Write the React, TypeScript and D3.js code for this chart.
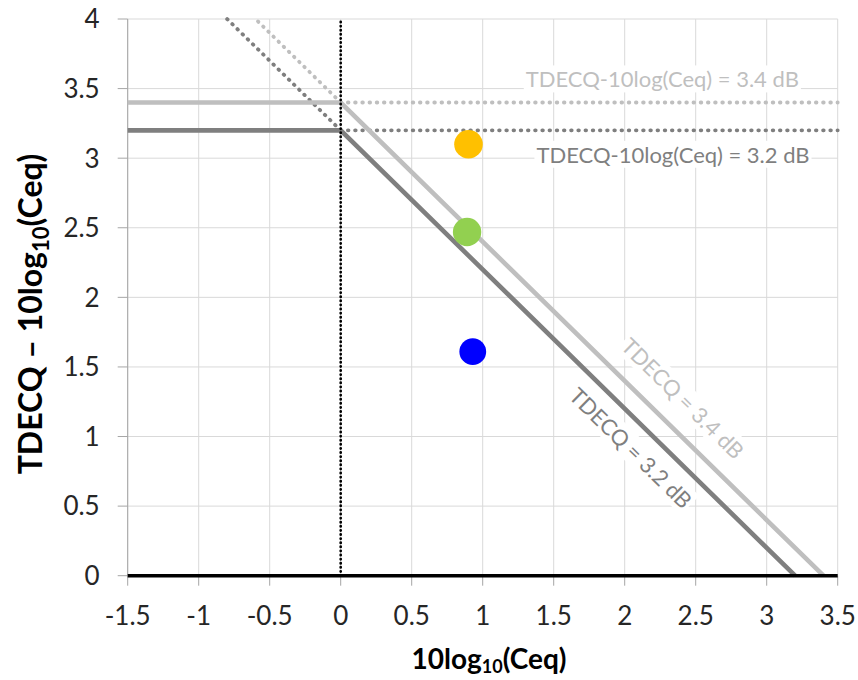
import React, { useLayoutEffect, useRef, useState } from "react";
import * as d3 from "d3";

// ---- data ----
const xTicks = [-1.5, -1, -0.5, 0, 0.5, 1, 1.5, 2, 2.5, 3, 3.5];
const yTicks = [0, 0.5, 1, 1.5, 2, 2.5, 3, 3.5, 4];
const xTickLabels = ["-1.5", "-1", "-0.5", "0", "0.5", "1", "1.5", "2", "2.5", "3", "3.5"];
const yTickLabels = ["0", "0.5", "1", "1.5", "2", "2.5", "3", "3.5", "4"];

const limitLight = [
  { x: -1.5, y: 3.4 },
  { x: 0, y: 3.4 },
  { x: 3.4, y: 0 },
];
const limitDark = [
  { x: -1.5, y: 3.2 },
  { x: 0, y: 3.2 },
  { x: 3.2, y: 0 },
];
const dotLightDiag = [
  { x: 0, y: 3.4 },
  { x: -0.6, y: 4 },
];
const dotDarkDiag = [
  { x: 0, y: 3.2 },
  { x: -0.8, y: 4 },
];
const dotLightFlat = [
  { x: 0, y: 3.4 },
  { x: 3.5, y: 3.4 },
];
const dotDarkFlat = [
  { x: 0, y: 3.2 },
  { x: 3.5, y: 3.2 },
];
const zeroLine = [
  { x: 0, y: 0 },
  { x: 0, y: 4 },
];
const pointsX = [0.9, 0.89, 0.93];
const pointsY = [3.1, 2.47, 1.61];
const pointColors = ["#FFC000", "#92D050", "#0000FF"];
const pointR = [14.3, 14.2, 13.4];

const LIGHT = "#BFBFBF";
const DARK = "#7F7F7F";
const FONT = "Lato, 'Open Sans', sans-serif";

const W = 858;
const H = 680;

const xScale = d3.scaleLinear().domain([-1.5, 3.5]).range([127.7, 837.7]);
const yScale = d3.scaleLinear().domain([0, 4]).range([575.7, 19]);
const line = d3
  .line<{ x: number; y: number }>()
  .x((d) => xScale(d.x))
  .y((d) => yScale(d.y));

type LabelProps = {
  x: number;
  y: number;
  angle: number;
  text: string;
  color: string;
  size: number;
};

function BoxedLabel({ x, y, angle, text, color, size }: LabelProps) {
  const ref = useRef<SVGTextElement>(null);
  const [box, setBox] = useState<{ x: number; y: number; w: number; h: number } | null>(null);
  useLayoutEffect(() => {
    if (ref.current) {
      const b = ref.current.getBBox();
      setBox({ x: b.x, y: b.y, w: b.width, h: b.height });
    }
  }, [text, size]);
  return (
    <g transform={`translate(${x},${y}) rotate(${angle})`}>
      {box && (
        <rect x={box.x - 2} y={box.y} width={box.w + 4} height={box.h} fill="#fff" />
      )}
      <text
        ref={ref}
        textAnchor="middle"
        dy="0.36em"
        fontFamily={FONT}
        fontSize={size}
        fill={color}
      >
        {text}
      </text>
    </g>
  );
}

export default function App() {
  const angle =
    (Math.atan2(yScale(0) - yScale(1), xScale(1) - xScale(0)) * 180) / Math.PI;
  const rad = (angle * Math.PI) / 180;
  // unit normal pointing up-right from diagonal lines
  const nx = Math.sin(rad);
  const ny = -Math.cos(rad);

  const diagLabel = (limit: number, along: number, offset: number) => {
    const px = xScale(along);
    const py = yScale(limit - along);
    return { x: px + nx * offset, y: py + ny * offset };
  };
  const l34 = diagLabel(3.4, 2.27, 28);
  const l32 = diagLabel(3.2, 2.16, -24);

  return (
    <svg
      width={W}
      height={H}
      style={{ position: "absolute", left: 0, top: 0, background: "#fff" }}
    >
      {/* grid */}
      <g stroke="#D9D9D9" strokeWidth={1}>
        {xTicks.map((t) => (
          <line key={"gx" + t} x1={xScale(t)} x2={xScale(t)} y1={yScale(0)} y2={yScale(4)} />
        ))}
        {yTicks.map((t) => (
          <line key={"gy" + t} x1={xScale(-1.5)} x2={xScale(3.5)} y1={yScale(t)} y2={yScale(t)} />
        ))}
      </g>

      {/* horizontal labels with white boxes */}
      <BoxedLabel
        x={xScale(2.265)}
        y={yScale(3.4) - 23}
        angle={0}
        text="TDECQ-10log(Ceq) = 3.4 dB"
        color={LIGHT}
        size={22}
      />
      <BoxedLabel
        x={xScale(2.34)}
        y={yScale(3.2) + 24.5}
        angle={0}
        text="TDECQ-10log(Ceq) = 3.2 dB"
        color={DARK}
        size={22}
      />
      <BoxedLabel x={l34.x} y={l34.y} angle={angle} text="TDECQ = 3.4 dB" color={LIGHT} size={22} />
      <BoxedLabel x={l32.x} y={l32.y} angle={angle} text="TDECQ = 3.2 dB" color={DARK} size={22} />

      {/* left axis & ticks */}
      <g stroke="#A6A6A6" strokeWidth={1}>
        <line x1={xScale(-1.5)} x2={xScale(-1.5)} y1={yScale(0)} y2={yScale(4)} />
        {yTicks.map((t) => (
          <line key={"ty" + t} x1={xScale(-1.5) - 10} x2={xScale(-1.5)} y1={yScale(t)} y2={yScale(t)} />
        ))}
        {xTicks.map((t) => (
          <line key={"tx" + t} x1={xScale(t)} x2={xScale(t)} y1={yScale(0)} y2={yScale(0) + 10} />
        ))}
      </g>

      {/* dotted guide lines */}
      <g fill="none" strokeLinecap="round" strokeWidth={3.8}>
        <path d={line(dotLightDiag)!} stroke={LIGHT} strokeDasharray="0.6 6.6" />
        <path d={line(dotLightFlat)!} stroke={LIGHT} strokeDasharray="0.6 6.6" />
        <path d={line(dotDarkDiag)!} stroke={DARK} strokeDasharray="0.6 6.6" />
        <path d={line(dotDarkFlat)!} stroke={DARK} strokeDasharray="0.6 6.6" />
      </g>

      {/* solid limit lines */}
      <path d={line(limitDark)!} fill="none" stroke={DARK} strokeWidth={4.6} />
      <path d={line(limitLight)!} fill="none" stroke={LIGHT} strokeWidth={4.6} />

      {/* x=0 dotted line */}
      <path
        d={line(zeroLine)!}
        fill="none"
        stroke="#000"
        strokeWidth={2.7}
        strokeLinecap="round"
        strokeDasharray="0.3 3.8"
      />

      {/* y=0 axis line */}
      <line
        x1={xScale(-1.5)}
        x2={xScale(3.5)}
        y1={yScale(0)}
        y2={yScale(0)}
        stroke="#000"
        strokeWidth={3.5}
      />

      {/* points */}
      {pointsX.map((px, i) => (
        <circle key={"p" + i} cx={xScale(px)} cy={yScale(pointsY[i])} r={pointR[i]} fill={pointColors[i]} />
      ))}

      {/* tick labels */}
      <g fontFamily={FONT} fontSize={26} fill="#262626">
        {yTicks.map((t, i) => (
          <text key={"ly" + t} x={xScale(-1.5) - 28} y={yScale(t)} dy="0.36em" textAnchor="end">
            {yTickLabels[i]}
          </text>
        ))}
        {xTicks.map((t, i) => (
          <text key={"lx" + t} x={xScale(t)} y={yScale(0) + 49.5} textAnchor="middle">
            {xTickLabels[i]}
          </text>
        ))}
      </g>

      {/* axis titles */}
      <text
        x={489}
        y={669}
        textAnchor="middle"
        fontFamily={FONT}
        fontWeight="bold"
        fontSize={28}
        fill="#000"
      >
        10log
        <tspan fontSize={18} dy={4}>
          10
        </tspan>
        <tspan dy={-4}>(Ceq)</tspan>
      </text>
      <text
        transform="translate(42,314) rotate(-90)"
        textAnchor="middle"
        fontFamily={FONT}
        fontWeight="bold"
        fontSize={32}
        fill="#000"
      >
        TDECQ – 10log
        <tspan fontSize={22} dy={7}>
          10
        </tspan>
        <tspan dy={-7}>(Ceq)</tspan>
      </text>
    </svg>
  );
}
